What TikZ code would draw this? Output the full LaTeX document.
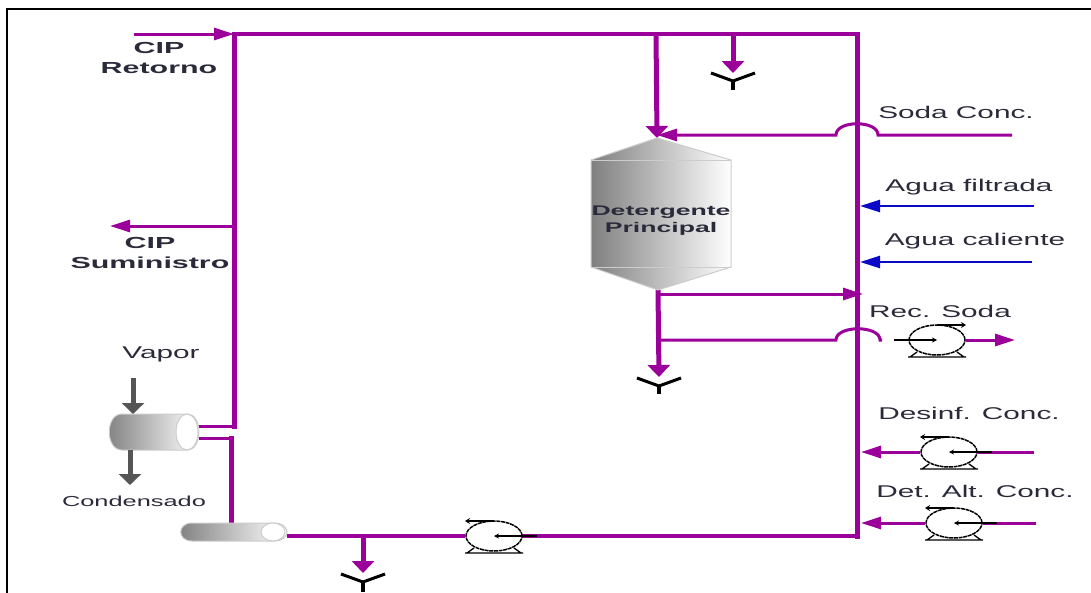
\documentclass[tikz,border=0pt]{standalone}
\usepackage{fontspec}
\newfontfamily\lblfont[FakeStretch=1.75]{Liberation Sans}
\newfontfamily\lblboldfont[FakeStretch=1.9]{Liberation Sans Bold}
\usepackage{tikz}
\usetikzlibrary{shapes.geometric, arrows.meta, positioning, backgrounds}
\definecolor{pipe}{HTML}{9B009B}
\definecolor{water}{HTML}{0A0AC8}
\definecolor{utility}{HTML}{555555}
\definecolor{ink}{HTML}{2A2A3A}
% pump: name, x, y, direction (1 right, -1 left)
\newcommand{\pump}[4]{%
\node[pumpbody] (#1) at (#2,#3) {};
\begin{scope}[shift={(#2,#3)}, xscale=#4]
\draw[pumpline, -{Stealth[length=5pt,width=5pt]}] (-43,0) -- (0,0);
\draw[pumpline, -{Stealth[length=5pt,width=6pt]}] (0,-15) -- (29,-15);
\draw[pumpline] (-29,17) -- (29,17) (-27,17) -- (-20,12) (27,17) -- (20,12);
\end{scope}}
% drain funnel: name, x, y of the centre, stem length
\newcommand{\drain}[4]{%
\coordinate (#1) at (#2,#3);
\draw[funnel] (#2-22,#3-8) -- (#2,#3) -- (#2+22,#3-8);
\draw[funnel, line width=4.5pt] (#2,#3) -- (#2,#3+#4);}

\begin{document}
\begin{tikzpicture}[
    x=1pt, y=-1pt,
    lbl/.style={font=\lblfont\fontsize{17}{20}\selectfont, text=ink, inner sep=0pt, align=center},
    lblb/.style={font=\lblboldfont\fontsize{16}{20}\selectfont, text=ink, inner sep=0pt, align=center},
    hpipe/.style={draw=pipe, line width=3.5pt, line cap=rect},
    vpipe/.style={draw=pipe, line width=5pt, line cap=rect},
    feed/.style={draw=pipe, line width=3pt},
    harr/.style={-{Triangle[length=20pt,width=12pt]}},
    varr/.style={-{Triangle[length=12pt,width=22pt]}},
    waterline/.style={draw=water, line width=2.5pt, -{Triangle[length=20pt,width=12pt]}},
    steam/.style={draw=utility, line width=5pt, -{Triangle[length=11pt,width=22pt]}},
    funnel/.style={draw=black, line width=3pt},
    pumpbody/.style={ellipse, draw=black, line width=1.5pt, dash pattern=on 4pt off 0.7pt, fill=white, minimum width=56pt, minimum height=30pt, inner sep=0pt},
    pumpline/.style={draw=black, line width=1.3pt},
    vessel/.style={draw=black!20, line width=1pt, left color=black!50, right color=white},
    endcap/.style={ellipse, draw=black!20, line width=1pt, fill=white, inner sep=0pt}
]
\useasboundingbox (0,0) rectangle (1091,592);
\draw[black, line width=2.5pt] (7,600) -- (7,9) -- (1095,9);

% corners of the main loop
\coordinate (topL) at (234,34);
\coordinate (topR) at (857,34);
\coordinate (botR) at (857,536);
\coordinate (retL) at (134,34);
\coordinate (supT) at (234,226);
\coordinate (supE) at (110,226);

% vessels
\path[vessel] (591,160) -- (657,138) -- (731,160) -- (731,267) -- (658,290) -- (591,267) -- cycle;
\draw[black!20, line width=1pt] (591,160) -- (731,160) (591,267) -- (731,267);
\coordinate (tankT) at (657,138);
\coordinate (tankB) at (658,290);
\path[vessel] (122,414) -- (188,414) arc[x radius=11, y radius=18, start angle=-90, end angle=90] -- (122,450) .. controls (105,450) and (105,414) .. (122,414) -- cycle;
\node[endcap, minimum width=22pt, minimum height=36pt] (heatE) at (187,432) {};
\path[vessel] (192,523) -- (275,523) arc[x radius=12, y radius=9, start angle=-90, end angle=90] -- (192,541) .. controls (177,541) and (177,523) .. (192,523) -- cycle;
\node[endcap, minimum width=24pt, minimum height=18pt] (coolE) at (273,532) {};

% pumps
\pump{pumpRec}{937}{340}{1}
\pump{pumpDes}{949}{452}{-1}
\pump{pumpDet}{954}{523}{-1}
\pump{pumpMain}{494}{536}{-1}

% drains
\drain{drainTop}{733}{81}{9}
\drain{drainTank}{659}{386}{8}
\drain{drainBot}{363}{582}{10}

\begin{pgfonlayer}{background}
% main loop
\draw[hpipe] (topL) -- (topR);
\draw[vpipe] (topR) -- (botR);
\draw[hpipe] (botR) -- (pumpMain.east);
\draw[hpipe, line cap=butt] (pumpMain.west) -- (287,536);
\coordinate (retT) at (234,426);
\coordinate (heatA) at (198,426);
\coordinate (heatB) at (199,438);
\coordinate (coolT) at (231,438);
\coordinate (coolB) at (231,523);
\draw[vpipe] (topL) -- (retT);
\draw[feed] (retT) -- (heatA);
\draw[feed] (heatB) -- (coolT);
\draw[vpipe] (coolT) -- (coolB);
\draw[feed, harr] (retL) -- (topL);
\draw[feed, harr] (supT) -- (supE);
\draw[vpipe, line cap=butt, varr] (656,34) -- (tankT);
\draw[vpipe, line cap=butt, varr] (733,34) -- (drainTop |- 0,73);
\draw[vpipe, line cap=butt, varr] (363,536) -- (drainBot |- 0,573);

% soda feed with jump
\coordinate (sodaE) at (1012,135);
\draw[feed, harr] (sodaE) -- (878,135) .. controls (878,120) and (836,120) .. (836,135) -- (tankT |- 0,135);

% water feeds
\coordinate (filtE) at (1034,206);
\coordinate (filtW) at (860,206);
\coordinate (calE) at (1032,262);
\coordinate (calW) at (860,262);
\draw[waterline] (filtE) -- (filtW);
\draw[waterline] (calE) -- (calW);

% tank outlet
\coordinate (recJ) at (882,340);
\coordinate (recE) at (1015,340);
\coordinate (desE) at (1034,452);
\coordinate (desW) at (861,452);
\coordinate (detE) at (1036,523);
\coordinate (detW) at (861,523);
\draw[vpipe, line cap=butt, varr] (tankB) -- (drainTank |- 0,377);
\draw[feed, harr] (tankB |- 0,294) -- (863,294);
\draw[feed] (tankB |- 0,340) -- (836,340) .. controls (836,325) and (880,325) .. (880,340) -- (recJ);
\draw[feed, harr] (pumpRec.east) -- (recE);
\draw[feed] (desE) -- (pumpDes.east);
\draw[feed, harr] (pumpDes.west) -- (desW);
\draw[feed] (detE) -- (pumpDet.east);
\draw[feed, harr] (pumpDet.west) -- (detW);
\end{pgfonlayer}

% utility arrows
\coordinate (vapT) at (133,378);
\coordinate (vapB) at (133,414);
\coordinate (conT) at (130,450);
\coordinate (conB) at (130,485);
\draw[steam] (vapT) -- (vapB);
\draw[steam] (conT) -- (conB);

% labels
\node[lblb] (lblRet) at (159,58) {CIP\\Retorno};
\node[lblb] (lblSup) at (150,253) {CIP\\Suministro};
\node[lbl] (lblVap) at (161,354) {Vapor};
\node[lbl, font=\lblfont\fontsize{14.5}{16}\selectfont] (lblCon) at (134,501) {Condensado};
\node[lbl, font=\lblboldfont\fontsize{14}{17}\selectfont] (lblTank) at (661,221) {Detergente\\Principal};
\node[lbl] (lblSoda) at (956,112) {Soda Conc.};
\node[lbl] (lblFilt) at (969,187) {Agua filtrada};
\node[lbl] (lblCal) at (975,241) {Agua caliente};
\node[lbl] (lblRec) at (940,311) {Rec. Soda};
\node[lbl] (lblDes) at (969,413) {Desinf. Conc.};
\node[lbl] (lblDet) at (975,491) {Det. Alt. Conc.};
\end{tikzpicture}
\end{document}
